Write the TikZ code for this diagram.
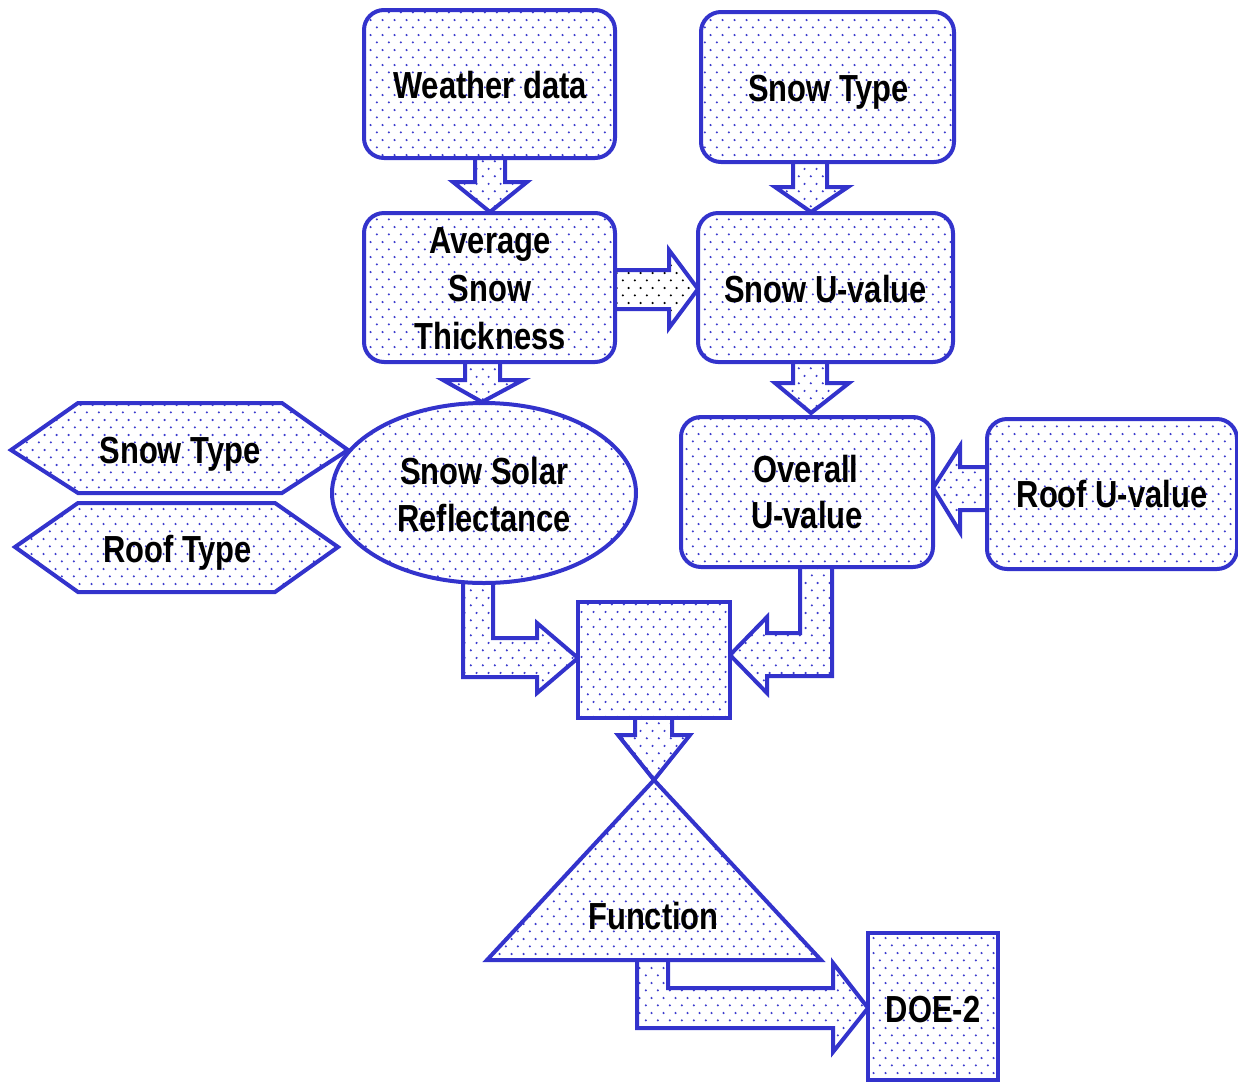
\documentclass[tikz,border=0pt]{standalone}
\usepackage{fontspec}
\setmainfont{Liberation Sans}
\usetikzlibrary{shapes.geometric,patterns.meta}
\definecolor{edge}{RGB}{51,51,204}
\definecolor{dotc}{RGB}{60,60,205}
\tikzdeclarepattern{name=bdots,type=colored,
  bottom left={(0pt,0pt)},top right={(5.85pt,7.4pt)},tile size={(5.85pt,7.4pt)},
  code={\fill[dotc] (1.46pt,1.85pt) circle (0.6pt); \fill[dotc] (4.39pt,5.55pt) circle (0.6pt);}}
\tikzdeclarepattern{name=kdots,type=colored,
  bottom left={(0pt,0pt)},top right={(5.85pt,7.4pt)},tile size={(5.85pt,7.4pt)},
  code={\fill[black] (1.46pt,1.85pt) circle (0.6pt); \fill[black] (4.39pt,5.55pt) circle (0.6pt);}}
\newcommand{\lt}[1]{\scalebox{0.82}[1]{#1}}
\begin{document}
\begin{tikzpicture}[x=0.5pt,y=-0.5pt,
  shp/.style={draw=edge,line width=2pt,preaction={fill=white},pattern=bdots,line join=miter},
  rbox/.style={shp,rectangle,rounded corners=10pt,inner sep=0pt,outer sep=0pt},
  sbox/.style={shp,rectangle,inner sep=0pt,outer sep=0pt},
  lbl/.style={anchor=base,inner sep=0pt,font=\fontsize{18.85}{22}\selectfont\bfseries}]
\useasboundingbox (0,0) rectangle (1238,1083);
% block arrows
\draw[shp] (475,156) -- (505,156) -- (505,182) -- (527,182) -- (490,212) -- (453,182) -- (475,182) -- cycle;
\draw[shp,pattern=kdots] (613,270) -- (669,270) -- (669,250) -- (698,289) -- (669,328) -- (669,309) -- (613,309) -- cycle;
\draw[shp] (793,160) -- (827,160) -- (827,187) -- (848,187) -- (811,212) -- (775,187) -- (793,187) -- cycle;
\draw[shp] (793,360) -- (827,360) -- (827,383) -- (849,383) -- (811,413) -- (775,383) -- (793,383) -- cycle;
\draw[shp] (465,360) -- (500,360) -- (500,380) -- (523,380) -- (482,402) -- (443,380) -- (465,380) -- cycle;
\draw[shp] (463,570) -- (493,570) -- (493,638) -- (537,638) -- (537,623) -- (578,658) -- (537,693) -- (537,677) -- (463,677) -- cycle;
\draw[shp] (800,565) -- (832,565) -- (832,676) -- (767,676) -- (767,693) -- (730,655) -- (767,617) -- (767,633) -- (800,633) -- cycle;
\draw[shp] (990,467) -- (960,467) -- (960,446) -- (933,488) -- (960,532) -- (960,510) -- (990,510) -- cycle;
\draw[shp] (635,716) -- (672,716) -- (672,735) -- (690,735) -- (654,780) -- (618,735) -- (635,735) -- cycle;
\draw[shp] (637,958) -- (668,958) -- (668,988) -- (833,988) -- (833,963) -- (868,1008) -- (833,1052) -- (833,1028) -- (637,1028) -- cycle;
% shapes
\node[rbox,minimum width=125.5pt,minimum height=74pt] (wd) at (489.5,84) {};
\node[rbox,minimum width=126.5pt,minimum height=75pt] (st) at (827.5,87) {};
\node[rbox,minimum width=125.5pt,minimum height=74.5pt] (ast) at (489.5,287.5) {};
\node[rbox,minimum width=127.5pt,minimum height=74.5pt] (suv) at (825.5,287.5) {};
\node[rbox,minimum width=126pt,minimum height=75pt] (ouv) at (807,492) {};
\node[rbox,minimum width=125pt,minimum height=75pt] (ruv) at (1112,494) {};
\node[sbox,minimum width=76pt,minimum height=58pt] (ctr) at (654,660) {};
\node[sbox,minimum width=65pt,minimum height=73.5pt] (doe) at (933,1006.5) {};
\draw[shp] (11,450) -- (78,403) -- (282,403) -- (348,450) -- (282,493) -- (78,493) -- cycle;
\draw[shp] (15,547) -- (78,503) -- (275,503) -- (338,547) -- (275,592) -- (78,592) -- cycle;
\node[shp,ellipse,inner sep=0pt,outer sep=0pt,minimum width=152pt,minimum height=90pt] (ssr) at (484,493) {};
\draw[shp] (654,780) -- (821,960) -- (487,960) -- cycle;
% labels
\node[lbl] (t1) at (490,98) {\lt{Weather data}};
\node[lbl] (t2) at (828.5,101) {\lt{Snow Type}};
\node[lbl] (t3a) at (490,253) {\lt{Average}};
\node[lbl] (t3b) at (490,301) {\lt{Snow}};
\node[lbl] (t3c) at (490,349) {\lt{Thickness}};
\node[lbl] (t4) at (825.5,302) {\lt{Snow U-value}};
\node[lbl] (t5a) at (484.5,484) {\lt{Snow Solar}};
\node[lbl] (t5b) at (484,531) {\lt{Reflectance}};
\node[lbl] (t6a) at (806,482) {\lt{Overall}};
\node[lbl] (t6b) at (807,528) {\lt{U-value}};
\node[lbl] (t7) at (1112,507) {\lt{Roof U-value}};
\node[lbl] (t8) at (180,463) {\lt{Snow Type}};
\node[lbl] (t9) at (177.5,562) {\lt{Roof Type}};
\node[lbl] (t10) at (653.5,929) {\lt{Function}};
\node[lbl] (t11) at (933,1022) {\lt{DOE-2}};
\end{tikzpicture}
\end{document}
